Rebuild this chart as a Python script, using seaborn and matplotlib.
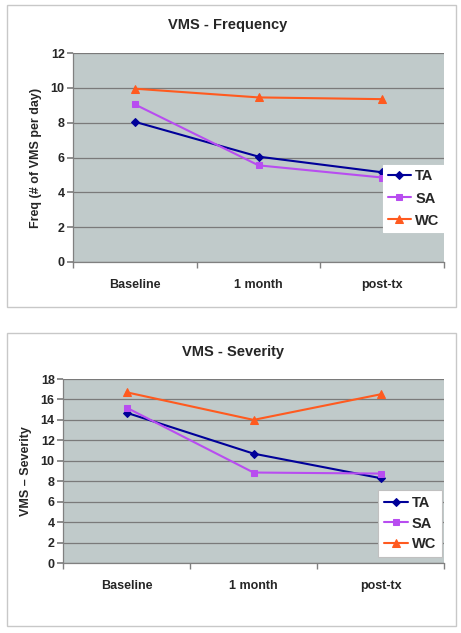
import matplotlib
matplotlib.use("Agg")
import matplotlib.pyplot as plt
from matplotlib.patches import Rectangle
import seaborn as sns
import pandas as pd

sns.set_theme(style="white")
plt.rcParams['font.family'] = ['Liberation Sans', 'DejaVu Sans']
plt.rcParams['font.weight'] = 'bold'

visits = ["Baseline", "1 month", "post-tx"]
groups = ["TA", "SA", "WC"]
freq_ta = [8.05, 6.05, 5.15]
freq_sa = [9.05, 5.55, 4.85]
freq_wc = [9.95, 9.45, 9.35]
sev_ta = [14.7, 10.7, 8.3]
sev_sa = [15.2, 8.85, 8.75]
sev_wc = [16.7, 14.0, 16.5]

palette = {"TA": "#000099", "SA": "#B84DF0", "WC": "#FF5A1F"}
markers = {"TA": "D", "SA": "s", "WC": "^"}
msizes = {"TA": 4, "SA": 5, "WC": 6}


def long_df(ta, sa, wc):
    rows = []
    for g, vals in zip(groups, [ta, sa, wc]):
        for v, y in zip(visits, vals):
            rows.append({"Visit": v, "Group": g, "Value": y})
    return pd.DataFrame(rows)


fig = plt.figure(figsize=(4.61, 6.33), dpi=100)
for (x0, y0, x1, y1) in [(7, 5, 456, 307), (7, 333, 456, 626)]:
    fig.patches.append(Rectangle((x0 / 461, 1 - y1 / 633), (x1 - x0) / 461, (y1 - y0) / 633,
                                 transform=fig.transFigure, facecolor="none",
                                 edgecolor="#c8c8c8", linewidth=1.0, zorder=0))

# legend: anchor (lower right, axes coords), padding, line spacing, border
panels = [
    dict(df=long_df(freq_ta, freq_sa, freq_wc), rect=(73, 53, 444, 262), ymax=12, step=2,
         title="VMS - Frequency", ylabel="Freq (# of VMS per day)", title_xy=(228, 25),
         leg=(1.0, 0.144), pad=0.3, spacing=0.55, frame=False),
    dict(df=long_df(sev_ta, sev_sa, sev_wc), rect=(63, 379, 444, 563), ymax=18, step=2,
         title="VMS - Severity", ylabel="VMS \u2013 Severity", title_xy=(233, 352),
         leg=(0.995, 0.033), pad=0.4, spacing=0.45, frame=True),
]

for p in panels:
    x0, y0, x1, y1 = p["rect"]
    ax = fig.add_axes([x0 / 461, 1 - y1 / 633, (x1 - x0) / 461, (y1 - y0) / 633])
    ax.set_facecolor("#C0CACA")
    for g in groups:
        sub = p["df"][p["df"]["Group"] == g]
        sns.lineplot(data=sub, x="Visit", y="Value", ax=ax, color=palette[g],
                     marker=markers[g], markersize=msizes[g], markeredgecolor=palette[g],
                     linewidth=1.5, label=g, sort=False)
    ax.set_xlim(-0.5, 2.5)
    ax.set_ylim(0, p["ymax"])
    ax.set_yticks(range(0, p["ymax"] + 1, p["step"]))
    ax.grid(axis="y", color="#7a7a7a", linewidth=0.9)
    ax.set_axisbelow(True)
    ax.set_xticks([0, 1, 2])
    ax.set_xticklabels(visits, fontsize=9, fontweight="bold")
    ax.set_xticks([-0.5, 0.5, 1.5, 2.5], minor=True)
    ax.tick_params(axis="x", which="major", length=0, pad=12)
    ax.tick_params(axis="x", which="minor", length=4, color="#808080", direction="out", bottom=True)
    ax.tick_params(axis="y", length=4, color="#808080", direction="out", left=True, labelsize=9, pad=2)
    for lab in ax.get_yticklabels():
        lab.set_fontweight("bold")
    for s in ["top", "right"]:
        ax.spines[s].set_visible(False)
    for s in ["left", "bottom"]:
        ax.spines[s].set_color("#808080")
        ax.spines[s].set_linewidth(0.9)
    ax.set_xlabel("")
    ax.set_ylabel(p["ylabel"], fontsize=9, fontweight="bold", labelpad=6)
    tx, ty = p["title_xy"]
    fig.text(tx / 461, 1 - ty / 633, p["title"], ha="center", va="center",
             fontsize=10.5, fontweight="bold")
    leg = ax.legend(loc="lower right", bbox_to_anchor=p["leg"], frameon=True, fancybox=False,
                    framealpha=1, fontsize=10.5, handlelength=1.6, borderpad=p["pad"],
                    labelspacing=p["spacing"], handletextpad=0.3, borderaxespad=0)
    leg.get_frame().set_facecolor("white")
    leg.get_frame().set_edgecolor("#c0c0c0" if p["frame"] else "white")
    leg.get_frame().set_linewidth(0.8)
    for t in leg.get_texts():
        t.set_fontweight("bold")

fig.savefig("out.png", dpi=100)
